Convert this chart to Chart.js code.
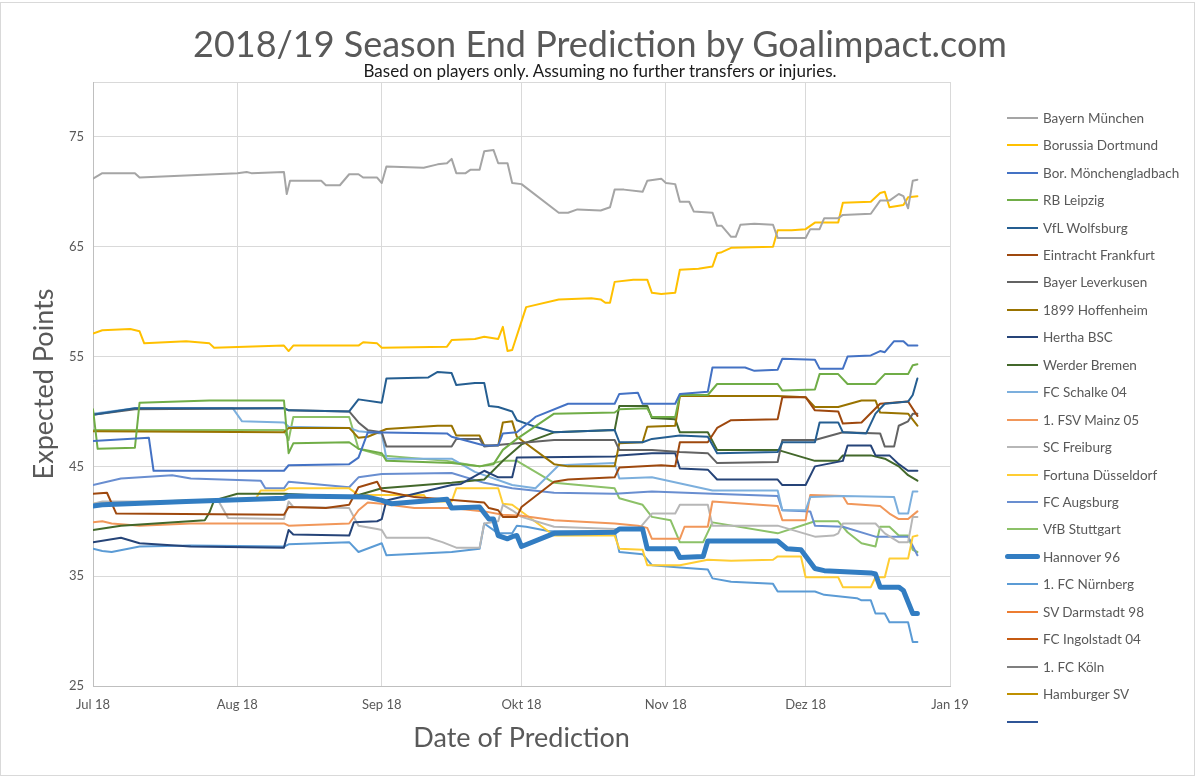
<!DOCTYPE html>
<html>
<head>
<meta charset="utf-8">
<script src="https://cdn.jsdelivr.net/npm/chart.js@4.4.1/dist/chart.umd.min.js"></script>
<style>
  body { margin: 0; background: #fff; font-family: Lato, sans-serif; }
  #wrap { position: relative; width: 1200px; height: 778px; overflow: hidden; }
  #frame { position: absolute; left: 0; top: 2px; width: 1195px; height: 774px; border: 1px solid #d9d9d9; box-sizing: border-box; }
  #title { position: absolute; left: 0; width: 1200px; top: 21px; text-align: center; font-size: 36px; color: #595959; white-space: nowrap; }
  #sub { position: absolute; left: 0; width: 1200px; top: 60px; text-align: center; font-size: 17px; color: #1a1a1a; white-space: nowrap; }
  canvas { position: absolute; left: 0; top: 0; }
  .lg-line { position: absolute; left: 1007px; width: 31px; height: 2px; }
  .lg-text { position: absolute; left: 1043px; font-size: 13.5px; color: #595959; white-space: nowrap; line-height: 16px; }
</style>
</head>
<body>
<div id="wrap">
  <div id="frame"></div>
  <canvas id="chart" width="1200" height="778"></canvas>
  <div id="title">2018/19 Season End Prediction by Goalimpact.com</div>
  <div id="sub">Based on players only. Assuming no further transfers or injuries.</div>
  <div id="legend"></div>
</div>
<script>
// x = days since 1 Jul 2018, y = expected points
const monthTicks = [0, 31, 62, 92, 123, 153, 184];
const monthLabels = ['Jul 18', 'Aug 18', 'Sep 18', 'Okt 18', 'Nov 18', 'Dez 18', 'Jan 19'];
const pointTicks = [25, 35, 45, 55, 65, 75, 80];

const teams = ['Bayern München', 'Borussia Dortmund', 'Bor. Mönchengladbach', 'RB Leipzig', 'VfL Wolfsburg',
  'Eintracht Frankfurt', 'Bayer Leverkusen', '1899 Hoffenheim', 'Hertha BSC', 'Werder Bremen', 'FC Schalke 04',
  '1. FSV Mainz 05', 'SC Freiburg', 'Fortuna Düsseldorf', 'FC Augsburg', 'VfB Stuttgart', 'Hannover 96',
  '1. FC Nürnberg', 'SV Darmstadt 98', 'FC Ingolstadt 04', '1. FC Köln', 'Hamburger SV', ''];

const colors = ['#a5a5a5', '#ffc000', '#4472c4', '#70ad47', '#255e91', '#9e480e', '#636363', '#997300',
  '#264478', '#43682b', '#7cafdd', '#f1975a', '#b7b7b7', '#ffcd33', '#698ed0', '#8cc168', '#327dc2',
  '#5b9bd5', '#ed7d31', '#c55a11', '#7f7f7f', '#bf9000', '#2f5597'];

const bayern = [[0,71.2],[2,71.7],[9,71.7],[10,71.3],[31,71.7],[33,71.8],[34,71.7],[41,71.8],[41.6,69.8],[42.3,71.0],[49,71.0],[50,70.6],[53,70.6],[55,71.6],[57,71.6],[58,71.3],[61,71.3],[62,70.8],[63,72.3],[71,72.2],[74,72.5],[76,72.6],[77,73.0],[78,71.7],[80,71.7],[81,72.0],[83,72.0],[84,73.7],[86,73.8],[87,72.6],[89,72.6],[90,70.8],[92,70.7],[100,68.1],[102,68.1],[104,68.4],[109,68.3],[111,68.6],[112,70.2],[114,70.2],[118,70.0],[119,71.0],[122,71.2],[123,70.8],[125,70.7],[126,69.1],[128,69.1],[129,68.2],[133,68.1],[134,66.9],[135,66.9],[137,65.9],[138,65.9],[139,67.0],[142,67.1],[146,67.0],[147,65.8],[153,65.8],[154,66.6],[156,66.6],[157,67.6],[160,67.6],[161,67.9],[167,68.0],[169,69.2],[171,69.2],[173,69.8],[174,69.6],[175,68.5],[176,71.0],[177,71.1]];
const dortmund = [[0,57.1],[2,57.4],[8,57.5],[10,57.3],[11,56.2],[20,56.4],[25,56.2],[26,55.8],[41,56.0],[42,55.5],[43,56.0],[57,56.0],[58,56.3],[61,56.2],[62,55.8],[76,55.9],[77,56.5],[82,56.6],[84,56.8],[87,56.6],[88,57.7],[89,55.5],[90,55.6],[93,59.5],[100,60.2],[107,60.3],[109,60.2],[110,59.9],[111,59.9],[112,61.8],[116,62.0],[119,62.0],[120,60.8],[122,60.7],[125,60.8],[126,62.9],[130,63.0],[133,63.2],[134,64.4],[135,64.5],[137,64.9],[146,65.0],[147,66.5],[150,66.5],[153,66.6],[155,67.2],[160,67.2],[161,69.0],[167,69.1],[169,69.9],[170,70.0],[171,68.6],[174,68.8],[175,69.5],[177,69.6]];
const gladbach = [[0,47.3],[12,47.6],[13,44.6],[41,44.6],[42,45.1],[55,45.2],[57,45.8],[59,48.1],[76,48.0],[77,47.7],[84,46.9],[87,46.9],[88,48.0],[91,48.1],[95,49.5],[102,50.7],[112,50.7],[113,51.6],[117,51.7],[118,50.7],[125,50.7],[126,51.6],[132,51.8],[133,54.0],[140,54.0],[142,53.7],[147,53.8],[148,54.8],[155,54.7],[156,53.9],[161,53.9],[162,55.0],[167,55.1],[169,55.5],[170,55.4],[172,56.4],[174,56.4],[175,56.0],[177,56.0]];
const leipzig = [[0,50.2],[1,46.6],[9,46.7],[10,50.8],[25,51.0],[41,51.0],[42,46.2],[43,47.1],[55,47.2],[57,46.6],[62,46.2],[63,45.5],[77,45.3],[83,45.0],[86,45.2],[88,46.5],[91,47.5],[99,49.8],[112,49.9],[113,50.2],[119,50.3],[120,49.5],[125,49.5],[126,51.5],[132,51.5],[134,52.5],[147,52.5],[148,51.9],[155,52.0],[156,53.4],[160,53.4],[162,52.5],[168,52.5],[170,53.4],[175,53.4],[176,54.2],[177,54.3]];
const wolfsburg = [[0,49.7],[9,50.3],[41,50.3],[42,50.1],[55,50.0],[57,51.1],[62,50.8],[63,53.0],[72,53.1],[74,53.6],[77,53.5],[78,52.4],[82,52.6],[84,52.6],[85,50.5],[87,50.4],[90,50.0],[91,49.2],[95,48.6],[99,48.1],[112,48.3],[113,47.2],[118,47.2],[120,47.5],[126,47.8],[132,47.7],[134,46.2],[147,46.3],[148,47.2],[155,47.2],[156,49.0],[160,49.0],[161,48.1],[166,48.0],[168,49.8],[170,50.7],[175,50.9],[176,51.5],[177,53.0]];
const frankfurt = [[0,42.5],[3,42.6],[5,40.7],[41,40.6],[42,41.3],[50,41.2],[55,41.5],[57,43.1],[61,43.6],[62,42.8],[69,42.2],[84,41.7],[85,41.2],[87,41.0],[88,40.4],[91,40.4],[92,41.3],[99,43.6],[102,43.8],[112,44.0],[113,44.9],[122,45.1],[125,45.0],[126,47.2],[132,47.2],[134,48.5],[137,49.2],[147,49.3],[148,51.3],[153,51.3],[155,50.1],[160,50.0],[161,48.9],[165,49.0],[169,50.7],[175,50.9],[177,49.6]];
const leverkusen = [[0,49.7],[9,50.2],[41,50.3],[42,50.1],[55,50.0],[57,49.0],[59,48.3],[62,48.1],[63,46.8],[77,46.8],[78,47.5],[83,47.5],[84,46.8],[88,47.0],[99,47.4],[112,47.4],[113,46.5],[120,46.5],[126,46.3],[132,46.2],[134,45.3],[147,45.4],[148,47.4],[155,47.4],[161,48.1],[169,48.0],[170,46.8],[172,46.8],[173,48.7],[175,49.1],[176,49.8],[177,49.8]];
const hoffenheim = [[0,48.2],[41,48.1],[42,48.5],[55,48.5],[57,47.6],[59,47.7],[63,48.4],[74,48.7],[77,48.7],[78,47.8],[83,47.8],[84,46.9],[87,46.9],[88,49.0],[90,49.1],[91,47.7],[99,45.2],[102,45.0],[112,45.0],[113,47.1],[118,47.2],[119,48.6],[125,48.7],[126,51.4],[147,51.4],[153,51.3],[155,50.4],[160,50.4],[165,51.0],[168,51.0],[169,49.9],[175,49.8],[177,48.7]];
const hertha = [[0,38.1],[6,38.5],[10,38.0],[21,37.7],[41,37.6],[42,39.2],[43,38.8],[55,38.7],[56,39.9],[61,40.0],[62,40.2],[63,41.9],[77,43.3],[79,43.4],[84,44.6],[87,44.0],[90,44.0],[91,45.8],[112,45.9],[113,46.0],[120,46.2],[125,46.2],[126,44.8],[132,44.7],[134,43.8],[147,43.8],[148,43.3],[153,43.3],[155,45.0],[161,45.5],[162,46.9],[167,46.9],[168,46.0],[171,46.0],[173,45.2],[175,44.6],[177,44.6]];
const werder = [[0,39.2],[6,39.6],[24,40.1],[25,40.8],[26,41.9],[31,42.5],[41,42.5],[55,42.2],[57,42.4],[62,43.0],[77,43.5],[84,43.8],[88,45.5],[92,47.0],[99,48.1],[112,48.3],[113,50.5],[119,50.5],[120,49.4],[125,49.3],[126,48.1],[132,48.1],[134,46.5],[147,46.5],[155,45.5],[160,45.5],[161,46.0],[167,46.0],[170,45.7],[173,45.0],[175,44.2],[177,43.7]];
const schalke = [[0,49.8],[9,50.3],[30,50.3],[32,49.1],[41,49.0],[42,48.6],[55,48.5],[57,48.2],[62,48.0],[63,45.7],[77,45.7],[82,44.5],[90,43.3],[95,43.0],[100,45.1],[112,45.3],[113,43.9],[120,44.0],[133,42.8],[147,42.8],[148,41.0],[153,41.0],[154,42.2],[161,42.3],[172,42.2],[173,40.7],[175,40.7],[176,42.7],[177,42.7]];
const mainz = [[0,39.9],[2,40.0],[4,39.8],[10,39.6],[21,39.8],[41,39.8],[42,39.6],[55,39.8],[57,41.0],[59,41.7],[62,41.6],[69,41.2],[77,41.2],[84,40.9],[88,40.6],[92,40.5],[99,40.1],[112,39.8],[117,39.6],[119,39.4],[120,38.4],[126,38.4],[127,39.5],[132,39.5],[133,41.8],[147,41.4],[148,40.1],[153,40.1],[154,42.4],[161,42.3],[162,41.6],[169,41.4],[171,40.7],[173,40.2],[175,40.2],[177,40.9]];
const freiburg = [[0,41.6],[2,41.8],[27,41.8],[29,40.3],[41,40.2],[42,41.8],[43,41.3],[55,41.2],[57,39.6],[61,39.3],[62,39.2],[63,38.5],[72,38.5],[75,38.1],[78,37.6],[83,37.6],[84,39.8],[87,40.0],[88,41.5],[90,41.0],[92,40.4],[99,39.5],[112,39.3],[117,39.2],[120,40.7],[125,40.7],[126,41.5],[132,41.5],[133,39.6],[147,39.6],[155,38.6],[159,38.7],[160,38.9],[161,39.8],[168,39.8],[170,38.9],[173,38.1],[175,38.1],[176,40.4],[177,40.4]];
const duesseldorf = [[0,41.6],[20,41.9],[35,42.1],[36,42.8],[41,42.8],[42,43.0],[55,43.0],[57,42.4],[71,42.4],[72,41.8],[77,41.8],[78,43.0],[87,43.0],[88,41.6],[90,41.5],[99,38.7],[112,38.7],[113,37.5],[118,37.4],[119,36.0],[126,36.0],[132,36.5],[137,36.4],[146,36.5],[147,36.8],[152,36.8],[153,34.9],[160,34.9],[161,34.0],[167,34.0],[168,34.9],[170,34.9],[171,36.6],[175,36.6],[176,38.6],[177,38.7]];
const augsburg = [[0,43.3],[6,43.9],[17,44.2],[21,43.9],[36,43.7],[37,43.0],[41,43.0],[42,43.6],[55,43.1],[57,44.0],[62,44.3],[77,44.4],[84,43.5],[90,43.0],[99,42.6],[112,42.5],[120,42.7],[133,42.5],[147,42.3],[148,41.0],[154,40.9],[155,39.6],[161,39.5],[168,38.6],[175,38.6],[177,36.9]];
const stuttgart = [[0,48.3],[41,48.3],[42,47.4],[43,49.5],[55,49.5],[57,46.6],[62,46.0],[76,45.5],[83,45.0],[88,45.5],[91,45.5],[99,43.5],[112,43.0],[113,42.1],[118,41.5],[120,40.4],[124,40.1],[126,38.1],[131,38.1],[133,39.9],[147,38.9],[155,40.0],[160,40.0],[162,39.0],[165,38.0],[168,37.7],[169,39.5],[171,39.5],[173,38.7],[175,38.7],[176,37.4],[177,37.2]];
const hannover = [[0,41.4],[2,41.5],[20,41.8],[41,42.1],[42,42.3],[59,42.2],[62,41.9],[64,41.6],[76,42.0],[77,41.2],[83,41.3],[85,40.2],[86,40.2],[87,38.7],[89,38.4],[90,38.6],[91,38.7],[92,37.7],[99,38.9],[112,39.0],[113,39.3],[118,39.3],[119,37.5],[125,37.5],[126,36.7],[131,36.8],[132,38.2],[147,38.2],[149,37.5],[152,37.4],[155,35.7],[157,35.5],[167,35.3],[168,35.2],[169,34.0],[173,34.0],[174,33.7],[176,31.6],[177,31.6]];
const nuernberg = [[0,37.5],[2,37.3],[4,37.2],[10,37.7],[21,37.8],[41,37.7],[42,37.9],[55,38.1],[57,37.2],[62,38.0],[63,36.9],[77,37.2],[83,37.5],[84,39.8],[87,38.9],[90,38.9],[91,39.6],[93,39.5],[98,39.1],[112,39.1],[113,37.2],[118,37.0],[120,36.0],[126,35.8],[132,35.6],[133,34.8],[137,34.5],[146,34.3],[147,33.6],[155,33.6],[157,33.3],[164,33.0],[165,32.8],[167,32.8],[168,31.6],[170,31.6],[171,30.8],[175,30.8],[176,29.0],[177,29.0]];
const darmstadt = [];
const ingolstadt = [];
const koeln = [];
const hamburg = [];
const unnamed = [];

const series = [bayern, dortmund, gladbach, leipzig, wolfsburg, frankfurt, leverkusen, hoffenheim, hertha,
  werder, schalke, mainz, freiburg, duesseldorf, augsburg, stuttgart, hannover, nuernberg,
  darmstadt, ingolstadt, koeln, hamburg, unnamed];
const thickTeam = 'Hannover 96';

const datasets = series.map((pts, i) => ({
  label: teams[i],
  data: pts.map(p => ({ x: p[0], y: p[1] })),
  borderColor: colors[i],
  backgroundColor: colors[i],
  borderWidth: teams[i] === thickTeam ? 5 : 2,
  order: teams[i] === thickTeam ? -1 : 0,
  pointRadius: 0,
  tension: 0,
  fill: false
}));

Chart.defaults.font.family = 'Lato, sans-serif';

const chart = new Chart(document.getElementById('chart'), {
  type: 'line',
  data: { datasets },
  options: {
    responsive: false,
    animation: false,
    layout: { padding: { left: 0, top: 82, right: 250, bottom: 0 } },
    plugins: { legend: { display: false }, tooltip: { enabled: false } },
    elements: { line: { borderJoinStyle: 'round', borderCapStyle: 'round' } },
    scales: {
      x: {
        type: 'linear', min: 0, max: 184,
        afterBuildTicks: s => { s.ticks = monthTicks.map(v => ({ value: v })); },
        afterFit: s => { s.height = 92; },
        ticks: { callback: (v, i) => monthLabels[i], autoSkip: false, maxRotation: 0, padding: 11, color: '#595959', font: { size: 13 } },
        grid: { color: '#d9d9d9', drawTicks: false },
        border: { color: '#bfbfbf' },
        title: { display: true, text: 'Date of Prediction', color: '#595959', font: { size: 27 }, padding: { top: 0, bottom: 24 } }
      },
      y: {
        min: 25, max: 80,
        afterBuildTicks: s => { s.ticks = pointTicks.map(v => ({ value: v })); },
        afterFit: s => { s.width = 93; },
        ticks: { callback: v => (v === 80 ? '' : v), padding: 9, color: '#595959', font: { size: 13 } },
        grid: { color: '#d9d9d9', drawTicks: false },
        border: { color: '#bfbfbf' },
        title: { display: true, text: 'Expected Points', color: '#595959', font: { size: 27 }, padding: { top: 28, bottom: 0 } }
      }
    }
  }
});

// legend on the right, built from the datasets
const legend = document.getElementById('legend');
chart.data.datasets.forEach((ds, i) => {
  const cy = 117.7 + i * 27.45;
  const line = document.createElement('div');
  line.className = 'lg-line';
  line.style.background = ds.borderColor;
  if (ds.borderWidth > 2) {
    line.style.height = '5px';
    line.style.top = (cy - 2.5) + 'px';
    line.style.left = '1005px';
    line.style.width = '35px';
    line.style.borderRadius = '3px';
  } else {
    line.style.top = (cy - 1) + 'px';
  }
  legend.appendChild(line);
  const txt = document.createElement('div');
  txt.className = 'lg-text';
  txt.style.top = (cy - 8) + 'px';
  txt.textContent = ds.label;
  legend.appendChild(txt);
});
</script>
</body>
</html>
